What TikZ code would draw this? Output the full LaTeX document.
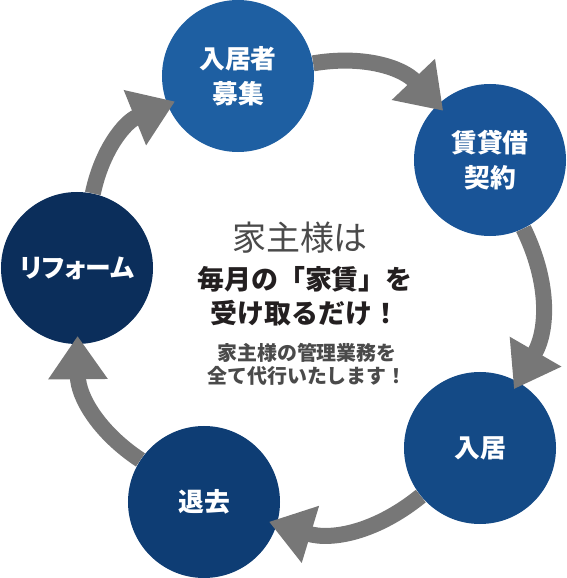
\documentclass[tikz,border=0pt]{standalone}
\usepackage{fontspec}
\setmainfont{Noto Sans CJK JP}
\newfontfamily\circlefont{Noto Sans CJK JP}[RawFeature=+palt]
\usetikzlibrary{arrows.meta,positioning}
\definecolor{blueA}{HTML}{1E5FA2}
\definecolor{blueB}{HTML}{195497}
\definecolor{blueC}{HTML}{144A86}
\definecolor{blueD}{HTML}{0E3D74}
\definecolor{blueE}{HTML}{0B2E5B}
\definecolor{flowgray}{HTML}{777777}
\definecolor{textgray}{HTML}{4A4A4A}
\definecolor{textdark}{HTML}{231F20}

\begin{document}
\begin{tikzpicture}[x=0.03cm,y=0.03cm,
  phase/.style={circle,minimum size=4.56cm,inner sep=0pt,text=white,align=center,
                font=\fontsize{22}{30}\selectfont\circlefont\bfseries},
  flow/.style={draw=flowgray,line width=0.48cm,
               -{Triangle[length=1.3cm,width=1.7cm]},shorten >=-0.25cm}]
  \useasboundingbox (0,0) rectangle (567,578);

  \node[phase,fill=blueA] (boshu)   at (238,502) {入居者\\募集};
  \node[phase,fill=blueB] (keiyaku) at (490,418) {賃貸借\\契約};
  \node[phase,fill=blueC] (nyukyo)  at (480,130) {入居};
  \node[phase,fill=blueD] (taikyo)  at (204,76)  {退去};
  \node[phase,fill=blueE] (reform)  at (77,310)  {リフォーム};

  % center message
  \node[text=textgray,font=\fontsize{29}{35}\selectfont] (title) at (300,340) {家主様は};
  \node[text=textdark,align=center,font=\fontsize{23}{29}\selectfont\bfseries]
       (rent) at (305,282) {毎月の「家賃」を\\受け取るだけ！};
  \node[text=textgray,align=center,font=\fontsize{17}{19.5}\selectfont\bfseries]
       (service) at (307,214) {家主様の管理業務を\\全て代行いたします！};

  \path (boshu)   edge[flow,bend left=28] (keiyaku)
        (keiyaku) edge[flow,bend left=28] (nyukyo)
        (nyukyo)  edge[flow,bend left=28] (taikyo)
        (taikyo)  edge[flow,bend left=28] (reform)
        (reform)  edge[flow,bend left=28] (boshu);
\end{tikzpicture}
\end{document}
